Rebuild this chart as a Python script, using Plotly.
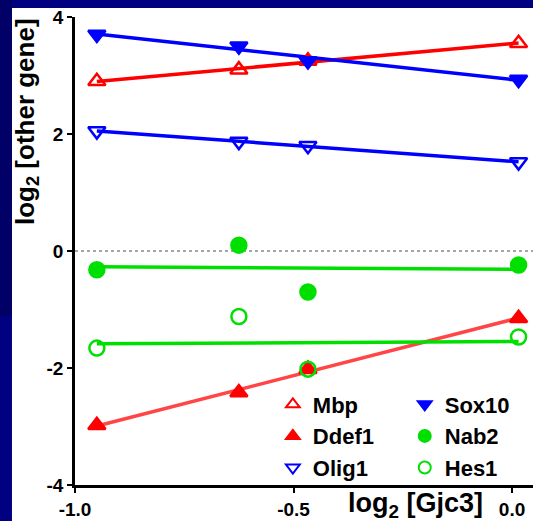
import numpy as np
import plotly.graph_objects as go

# ---- data ----
x_vals = [-0.95, -0.625, -0.467, 0.015]
mbp = [2.90, 3.10, 3.25, 3.55]
sox10 = [3.70, 3.50, 3.25, 2.93]
olig1 = [2.05, 1.87, 1.80, 1.52]
nab2 = [-0.32, 0.10, -0.70, -0.24]
hes1 = [-1.66, -1.12, -2.02, -1.47]
ddef1 = [-2.98, -2.42, -2.02, -1.15]

x_tickvals = [-1.0, -0.5, 0.0]
x_ticktext = ["-1.0", "-0.5", "0.0"]
y_tickvals = [-4, -2, 0, 2, 4]
y_ticktext = ["-4", "-2", "0", "2", "4"]

FONT = "Arial, Liberation Sans, sans-serif"

series = [
    # name, values, symbol, marker color, line color, legend
    ("Mbp", mbp, "triangle-up-open", "#ff0000", "#ff0000", "legend"),
    ("Ddef1", ddef1, "triangle-up", "#ff0000", "#ff4545", "legend"),
    ("Olig1", olig1, "triangle-down-open", "#0000ff", "#0000ff", "legend"),
    ("Sox10", sox10, "triangle-down", "#0000ff", "#0000ff", "legend2"),
    ("Nab2", nab2, "circle", "#00e000", "#00e000", "legend2"),
    ("Hes1", hes1, "circle-open", "#00e000", "#00e000", "legend2"),
]

fig = go.Figure()

xa = np.array(x_vals)
xfit = np.array([xa.min(), xa.max()])
for name, vals, sym, mcol, lcol, lg in series:
    k, b = np.polyfit(xa, np.array(vals), 1)
    fig.add_trace(go.Scatter(
        x=xfit, y=k * xfit + b, mode="lines",
        line=dict(color=lcol, width=3.5), showlegend=False, hoverinfo="skip"))

for name, vals, sym, mcol, lcol, lg in series:
    fig.add_trace(go.Scatter(
        x=x_vals, y=vals, mode="markers", name=name, legend=lg,
        marker=dict(symbol=sym, size=15, color=mcol,
                    line=dict(color=mcol, width=2.5))))

legend_common = dict(
    font=dict(family=FONT, size=22, color="black", weight="bold"),
    bgcolor="rgba(0,0,0,0)", borderwidth=0, yanchor="middle", xanchor="left",
    tracegroupgap=0, itemsizing="constant",
)

fig.update_layout(
    width=533, height=521,
    margin=dict(l=75, r=0, t=17, b=36),
    paper_bgcolor="#000080",
    plot_bgcolor="white",
    font=dict(family=FONT, color="black"),
    showlegend=True,
    legend=dict(x=0.432, y=(485 - 436) / 468, **legend_common),
    legend2=dict(x=0.72, y=(485 - 436) / 468, **legend_common),
    xaxis=dict(
        range=[-1.0, 0.048], tickvals=x_tickvals, ticktext=x_ticktext,
        showgrid=False, zeroline=False, showline=True, linecolor="black", linewidth=2.5,
        ticks="outside", ticklen=5, tickwidth=2, tickcolor="black",
        tickfont=dict(family=FONT, size=19, color="black", weight="bold"),
    ),
    yaxis=dict(
        range=[-4, 4], tickvals=y_tickvals, ticktext=y_ticktext,
        showgrid=False, zeroline=False, showline=True, linecolor="black", linewidth=2.5,
        ticks="outside", ticklen=5, tickwidth=2, tickcolor="black",
        tickfont=dict(family=FONT, size=19, color="black", weight="bold"),
    ),
    shapes=[
        dict(type="rect", xref="paper", yref="paper", x0=-0.1376, x1=1.01,
             y0=-0.1, y1=1.019, fillcolor="white", line=dict(width=0), layer="below"),
        dict(type="rect", xref="paper", yref="paper", x0=-0.17, x1=-0.1376,
             y0=(485 - 316) / 468, y1=1.05, fillcolor="#000066", line=dict(width=0), layer="below"),
        dict(type="line", xref="paper", yref="y", x0=0, x1=1, y0=0, y1=0,
             line=dict(color="#888888", width=1.5, dash="dot"), layer="below"),
    ],
    annotations=[
        dict(text="<b>log<sub>2</sub> [Gjc3]</b>", xref="paper", yref="paper",
             x=(415 - 75) / 458, y=(485 - 505) / 468, showarrow=False,
             xanchor="center", yanchor="middle",
             font=dict(family=FONT, size=27, color="black")),
        dict(text="<b>log<sub>2</sub> [other gene]</b>", xref="paper", yref="paper",
             x=(27 - 75) / 458, y=(485 - 122) / 468, showarrow=False, textangle=-90,
             xanchor="center", yanchor="middle",
             font=dict(family=FONT, size=26, color="black")),
    ],
)

fig.write_html("out.html")
